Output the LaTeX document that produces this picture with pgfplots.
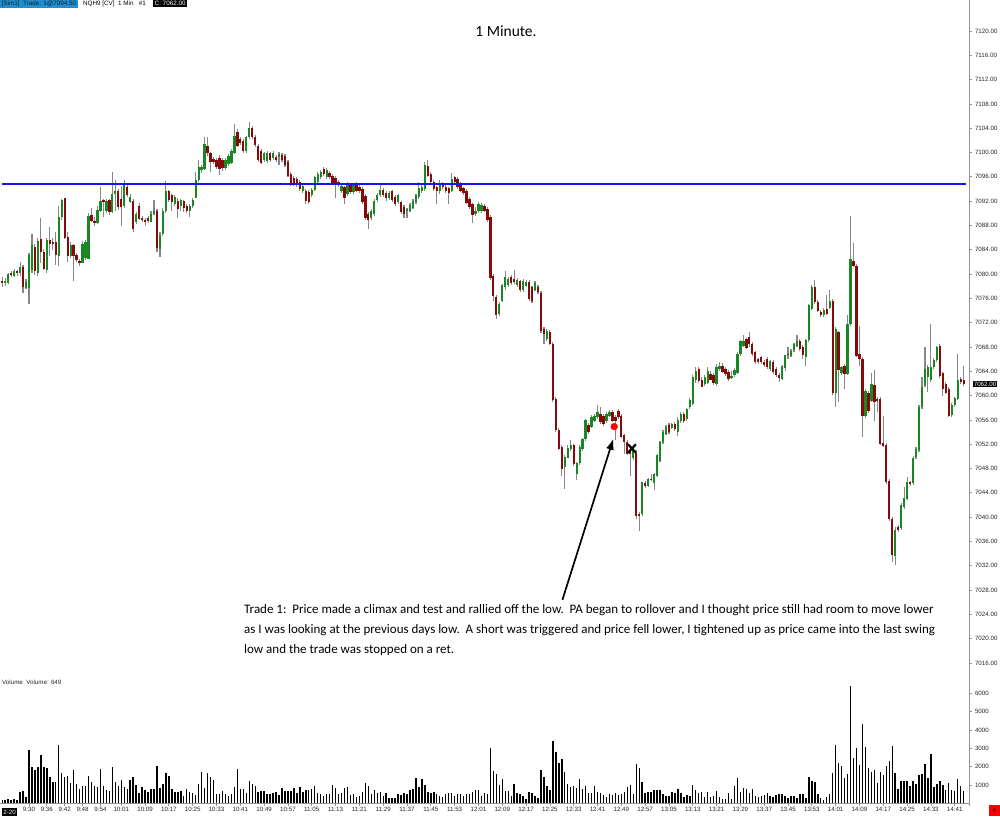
\documentclass[border=0pt]{standalone}
\usepackage{pgfplots}
\pgfplotsset{compat=1.18}
\usepackage{pgfplotstable}
\usepackage{fontspec}
\setmainfont{Carlito}
\newfontfamily\axfont{Liberation Sans}
\usetikzlibrary{arrows.meta}
\definecolor{cgreen}{RGB}{25,135,35}
\definecolor{cred}{RGB}{135,10,10}
\definecolor{wick}{RGB}{135,135,135}
\definecolor{axgray}{RGB}{150,150,150}
\definecolor{hdrblue}{RGB}{30,144,210}
\definecolor{lineblue}{RGB}{20,20,245}

\pgfplotstableread{
i o h l c v
-9 7079.0 7079.5 7078.0 7078.6 180
-8 7078.6 7079.4 7078.2 7079.0 180
-7 7078.7 7080.4 7078.5 7080.2 230
-6 7080.2 7080.5 7079.6 7079.8 180
-5 7079.8 7080.9 7079.6 7080.6 230
-4 7080.6 7080.8 7079.8 7080.3 180
-3 7080.3 7082.0 7079.7 7081.2 600
-2 7081.3 7081.5 7077.0 7077.9 690
-1 7077.9 7079.3 7077.6 7078.8 360
0 7077.7 7083.6 7075.2 7083.1 2900
1 7080.7 7086.6 7080.3 7084.8 2000
2 7084.6 7085.0 7080.0 7080.7 1820
3 7080.2 7086.0 7079.8 7085.6 2000
4 7085.9 7089.4 7082.0 7083.7 2640
5 7083.7 7084.2 7080.6 7081.0 2000
6 7080.7 7086.0 7080.3 7085.6 1910
7 7085.6 7087.8 7083.1 7085.0 1460
8 7085.4 7086.0 7084.0 7085.1 1150
9 7085.3 7087.0 7081.5 7083.1 1190
10 7083.1 7091.4 7081.5 7089.4 3190
11 7089.4 7092.5 7089.0 7092.2 1640
12 7092.5 7092.6 7085.8 7086.0 1420
13 7086.2 7087.0 7082.0 7083.1 1510
14 7083.1 7085.2 7082.6 7084.8 1090
15 7084.8 7085.0 7079.0 7083.1 1820
16 7083.1 7083.5 7082.0 7082.3 1050
17 7082.3 7082.6 7081.5 7081.9 780
18 7082.0 7085.4 7081.8 7085.0 960
19 7082.8 7085.8 7082.5 7085.4 960
20 7082.6 7090.0 7082.4 7089.7 1510
21 7089.7 7090.9 7088.5 7088.8 1150
22 7088.8 7089.5 7088.0 7088.6 960
23 7088.6 7091.2 7088.3 7090.7 870
24 7090.5 7094.4 7090.3 7092.2 1880
25 7092.2 7092.5 7089.6 7091.8 960
26 7090.5 7092.5 7090.2 7092.2 730
27 7092.2 7092.4 7089.8 7090.3 690
28 7090.3 7096.8 7090.0 7093.2 1970
29 7093.2 7095.5 7090.5 7093.6 1190
30 7093.6 7094.0 7090.6 7091.0 960
31 7092.5 7094.7 7088.0 7091.1 1280
32 7091.2 7095.5 7091.0 7094.7 910
33 7094.5 7094.9 7092.8 7093.1 780
34 7092.0 7093.2 7091.7 7092.8 1280
35 7092.0 7092.4 7087.0 7087.4 1420
36 7088.6 7090.2 7088.3 7089.9 1000
37 7091.3 7091.8 7089.0 7089.2 550
38 7089.2 7089.6 7088.7 7089.0 870
39 7089.0 7089.4 7088.0 7088.7 730
40 7089.3 7089.6 7088.4 7088.7 640
41 7088.7 7090.3 7088.5 7090.0 780
42 7090.0 7092.2 7089.7 7090.5 780
43 7090.5 7090.8 7083.8 7084.4 2040
44 7084.2 7086.9 7082.8 7086.6 820
45 7086.6 7091.0 7086.3 7090.5 1050
46 7090.5 7095.5 7090.2 7093.8 1640
47 7093.6 7094.0 7092.0 7092.2 1510
48 7093.1 7093.4 7090.5 7091.9 780
49 7091.6 7093.2 7091.3 7092.8 640
50 7092.2 7092.6 7089.4 7090.8 640
51 7091.2 7092.5 7090.5 7092.2 690
52 7092.0 7092.3 7090.4 7090.8 420
53 7091.3 7091.6 7090.2 7090.5 780
54 7090.5 7091.6 7089.5 7091.3 600
55 7091.2 7092.6 7091.0 7092.3 550
56 7092.7 7096.8 7092.5 7095.5 460
57 7095.5 7098.8 7095.2 7097.7 1050
58 7097.2 7098.0 7096.8 7097.7 1730
59 7097.4 7102.6 7097.2 7101.5 860
60 7101.2 7102.6 7099.6 7099.9 1640
61 7099.9 7100.2 7096.9 7098.5 1460
62 7099.1 7099.4 7098.2 7098.5 1280
63 7099.0 7099.3 7097.4 7097.7 510
64 7099.3 7099.6 7096.3 7097.4 510
65 7098.8 7099.1 7097.0 7097.4 670
66 7097.4 7099.1 7097.1 7098.8 510
67 7098.3 7099.9 7098.0 7099.6 400
68 7098.5 7100.7 7098.2 7100.4 490
69 7100.1 7104.8 7099.8 7102.9 870
70 7103.4 7104.0 7100.9 7101.2 1860
71 7102.3 7102.6 7101.2 7101.5 780
72 7102.0 7102.3 7100.1 7100.4 780
73 7100.4 7102.9 7100.1 7102.6 580
74 7102.6 7105.1 7102.3 7104.0 1220
75 7104.0 7104.3 7102.3 7102.6 1050
76 7102.6 7102.9 7100.9 7101.2 950
77 7101.2 7101.5 7098.5 7098.8 600
78 7100.4 7100.7 7098.2 7098.5 670
79 7098.8 7100.2 7098.5 7099.9 670
80 7098.8 7100.4 7098.5 7100.1 510
81 7099.9 7100.2 7098.5 7098.8 510
82 7099.1 7100.2 7098.8 7099.9 580
83 7099.3 7099.6 7098.5 7098.8 600
84 7099.3 7100.2 7098.0 7099.9 460
85 7099.6 7099.9 7098.5 7098.8 820
86 7099.6 7099.9 7097.7 7098.0 670
87 7098.5 7098.8 7096.0 7096.3 690
88 7096.6 7096.9 7094.6 7094.9 690
89 7096.0 7096.3 7094.6 7094.9 820
90 7095.7 7096.0 7094.4 7094.7 580
91 7095.2 7095.5 7093.8 7094.1 870
92 7093.8 7095.0 7093.5 7094.7 640
93 7093.8 7094.1 7091.6 7092.2 730
94 7093.6 7093.9 7091.6 7091.9 730
95 7093.0 7094.1 7092.7 7093.8 760
96 7094.0 7096.3 7093.7 7096.0 950
97 7095.2 7096.9 7094.9 7096.6 550
98 7096.0 7097.2 7095.7 7096.85 510
99 7097.4 7097.7 7096.3 7096.6 400
100 7096.0 7097.5 7095.7 7097.2 490
101 7096.6 7096.9 7095.7 7096.0 490
102 7096.3 7096.6 7094.9 7095.2 1000
103 7096.0 7096.3 7092.7 7094.9 860
104 7095.2 7095.5 7094.4 7094.7 490
105 7093.8 7095.0 7093.5 7094.7 550
106 7094.4 7094.7 7091.6 7092.6 860
107 7093.3 7095.2 7093.0 7094.9 870
108 7094.9 7095.2 7093.3 7093.6 460
109 7093.6 7095.2 7093.3 7094.9 490
110 7094.9 7095.2 7093.5 7093.8 330
111 7094.4 7094.7 7093.5 7093.8 400
112 7094.1 7094.4 7091.6 7091.9 640
113 7093.0 7093.3 7089.1 7089.4 1090
114 7090.0 7090.3 7087.5 7088.9 950
115 7089.2 7090.8 7088.9 7090.5 490
116 7090.0 7092.5 7089.7 7092.2 730
117 7092.2 7093.3 7091.9 7093.0 580
118 7093.0 7094.7 7092.7 7093.8 600
119 7093.8 7094.1 7092.7 7093.0 400
120 7093.5 7093.8 7092.2 7092.7 580
121 7092.5 7093.6 7092.2 7093.3 310
122 7093.6 7093.9 7091.9 7092.2 310
123 7092.7 7093.0 7091.3 7091.6 310
124 7091.9 7093.3 7091.6 7093.0 490
125 7091.9 7092.2 7090.0 7090.3 460
126 7091.1 7091.4 7089.4 7090.0 580
127 7090.5 7091.0 7089.4 7090.8 510
128 7090.5 7091.7 7090.2 7091.4 730
129 7091.1 7092.5 7090.8 7092.2 760
130 7091.9 7093.3 7091.6 7093.0 1370
131 7092.7 7095.2 7092.4 7094.1 910
132 7093.8 7094.7 7093.5 7094.4 1330
133 7094.1 7098.5 7093.8 7097.95 1000
134 7097.95 7098.8 7096.0 7096.3 600
135 7096.6 7096.9 7094.9 7095.2 580
136 7095.2 7095.5 7093.8 7094.1 640
137 7094.4 7094.7 7091.6 7093.6 510
138 7093.6 7095.5 7093.3 7095.0 420
139 7094.9 7095.2 7094.1 7094.4 360
140 7094.4 7094.7 7093.3 7093.6 510
141 7094.1 7094.4 7091.6 7093.3 580
142 7093.8 7096.6 7093.5 7095.8 550
143 7096.0 7096.3 7094.9 7095.2 420
144 7095.8 7096.1 7094.1 7094.4 510
145 7094.9 7095.2 7093.5 7093.8 490
146 7094.1 7094.4 7093.0 7093.3 420
147 7093.8 7094.1 7091.6 7091.9 510
148 7092.5 7092.8 7090.8 7091.1 510
149 7091.6 7091.9 7088.6 7089.7 640
150 7090.0 7091.2 7089.7 7090.5 730
151 7090.5 7092.0 7090.2 7091.6 730
152 7090.5 7091.9 7090.2 7091.4 420
153 7091.2 7091.5 7090.2 7090.5 550
154 7090.8 7091.1 7088.6 7088.9 510
155 7089.4 7089.7 7079.0 7079.3 3000
156 7079.85 7080.0 7075.7 7076.55 1770
157 7076.3 7076.6 7072.7 7073.3 1600
158 7073.5 7075.5 7073.2 7075.2 1000
159 7075.7 7078.4 7075.4 7078.2 1310
160 7077.9 7080.7 7077.6 7079.6 670
161 7078.2 7079.6 7077.9 7079.3 670
162 7079.6 7079.9 7078.2 7078.5 400
163 7079.3 7080.7 7078.5 7078.8 1040
164 7078.2 7079.3 7077.9 7079.0 580
165 7078.8 7079.1 7077.1 7077.4 490
166 7077.4 7079.3 7077.1 7079.0 400
167 7078.2 7079.1 7077.9 7078.8 240
168 7078.8 7079.1 7075.7 7076.0 600
169 7077.9 7078.2 7075.4 7075.7 580
170 7077.4 7078.8 7077.1 7078.5 400
171 7077.9 7078.2 7076.8 7077.1 270
172 7077.1 7077.4 7070.5 7070.8 1820
173 7071.1 7071.4 7068.6 7070.3 1460
174 7069.4 7071.1 7069.1 7070.8 950
175 7070.5 7070.8 7068.3 7068.6 730
176 7068.6 7068.9 7059.0 7059.3 3420
177 7059.6 7059.9 7054.0 7054.35 2820
178 7054.35 7054.6 7051.0 7051.3 2220
179 7051.6 7051.9 7046.7 7048.0 2400
180 7048.3 7050.2 7044.7 7049.95 1690
181 7049.95 7051.9 7049.7 7051.6 1060
182 7051.3 7052.7 7051.0 7051.9 910
183 7051.9 7052.2 7048.6 7048.9 950
184 7047.2 7049.2 7046.1 7048.9 820
185 7048.9 7051.9 7048.6 7051.6 1310
186 7051.3 7053.2 7051.0 7052.97 780
187 7052.97 7056.3 7052.7 7056.0 950
188 7055.2 7055.5 7053.8 7054.1 550
189 7054.9 7056.8 7054.6 7056.5 550
190 7056.0 7057.1 7055.7 7056.8 950
191 7056.5 7058.5 7056.2 7057.4 600
192 7057.1 7058.2 7055.4 7055.7 580
193 7056.8 7057.1 7055.1 7055.4 450
194 7056.0 7057.4 7055.7 7057.1 360
195 7056.8 7057.7 7056.5 7057.4 490
196 7057.4 7057.7 7055.7 7056.0 450
197 7056.5 7056.8 7052.7 7055.9 550
198 7057.6 7057.9 7056.2 7056.5 450
199 7056.8 7057.1 7053.0 7053.25 490
200 7053.5 7053.8 7050.5 7052.4 640
201 7052.4 7052.7 7050.2 7050.5 870
202 7051.05 7051.3 7046.7 7050.5 1000
203 7049.7 7051.6 7049.4 7051.3 490
204 7050.8 7051.1 7039.8 7040.35 2150
205 7040.6 7041.0 7037.9 7040.3 1910
206 7040.6 7045.9 7040.3 7045.8 1180
207 7045.8 7046.1 7045.0 7045.3 550
208 7045.3 7046.6 7045.0 7046.4 640
209 7046.4 7047.2 7046.0 7046.1 640
210 7045.8 7047.3 7044.5 7047.2 730
211 7046.9 7050.5 7046.6 7050.2 730
212 7049.4 7052.7 7049.1 7052.4 730
213 7052.4 7054.4 7052.1 7054.1 490
214 7053.8 7055.2 7053.5 7054.9 400
215 7055.2 7055.5 7053.8 7054.1 400
216 7054.9 7055.7 7054.6 7055.4 600
217 7055.4 7055.7 7054.3 7054.6 550
218 7054.1 7056.5 7053.5 7056.2 760
219 7056.0 7057.4 7055.7 7057.1 550
220 7057.1 7057.4 7055.7 7056.0 330
221 7056.3 7058.0 7056.0 7057.9 450
222 7058.2 7059.8 7057.9 7059.5 400
223 7058.7 7063.3 7058.4 7063.1 1000
224 7062.6 7064.8 7062.3 7064.2 730
225 7064.5 7064.8 7062.3 7062.6 580
226 7062.8 7063.1 7061.4 7061.5 600
227 7062.0 7063.4 7061.7 7063.1 360
228 7062.3 7064.8 7062.0 7064.2 640
229 7063.7 7064.0 7062.6 7062.8 360
230 7063.4 7063.7 7061.7 7062.0 400
231 7062.0 7065.3 7061.7 7064.8 670
232 7064.5 7065.6 7064.2 7065.0 360
233 7065.0 7065.4 7063.7 7063.9 220
234 7064.5 7064.8 7063.4 7063.7 220
235 7063.9 7064.2 7062.5 7062.8 550
236 7063.1 7064.2 7062.8 7063.4 240
237 7063.4 7064.5 7063.1 7064.2 950
238 7063.9 7067.2 7063.6 7066.9 1370
239 7066.9 7069.2 7066.6 7069.1 640
240 7068.3 7070.0 7068.0 7069.1 820
241 7069.4 7069.7 7067.8 7068.0 780
242 7069.7 7070.5 7068.0 7068.6 550
243 7068.6 7068.9 7066.7 7067.0 780
244 7067.2 7067.5 7065.3 7065.6 400
245 7066.1 7066.4 7065.3 7065.6 360
246 7066.4 7066.7 7065.3 7065.6 420
247 7065.6 7065.9 7064.8 7065.0 450
248 7066.1 7066.4 7064.5 7064.8 550
249 7064.5 7066.0 7064.2 7065.8 400
250 7065.6 7065.9 7063.7 7063.9 360
251 7064.5 7064.8 7063.1 7063.4 450
252 7063.4 7063.7 7062.3 7062.9 490
253 7062.8 7065.1 7062.5 7064.8 510
254 7064.5 7066.9 7064.2 7066.7 400
255 7066.9 7068.1 7066.1 7066.7 310
256 7066.7 7067.8 7066.4 7067.5 400
257 7067.5 7068.8 7067.2 7068.6 400
258 7068.3 7070.0 7068.0 7069.1 310
259 7069.1 7069.4 7067.5 7067.8 490
260 7068.05 7068.4 7066.1 7066.7 510
261 7066.4 7069.5 7065.0 7069.2 270
262 7069.2 7075.2 7068.9 7074.9 1460
263 7074.4 7078.2 7074.1 7078.0 1220
264 7078.0 7079.1 7075.2 7075.5 1150
265 7075.5 7075.8 7073.8 7074.1 510
266 7073.8 7074.1 7073.0 7073.3 310
267 7073.3 7074.4 7073.0 7074.1 180
268 7074.3 7076.6 7073.2 7073.5 360
269 7074.6 7077.4 7074.3 7075.7 510
270 7075.7 7076.0 7060.1 7060.4 1680
271 7060.6 7071.4 7058.2 7071.1 3190
272 7070.5 7070.8 7059.0 7064.2 2220
273 7063.9 7065.1 7063.6 7064.8 2060
274 7065.0 7065.3 7061.2 7063.7 1400
275 7063.7 7073.3 7063.4 7071.9 1600
276 7071.9 7089.7 7071.6 7082.6 6400
277 7082.3 7085.1 7081.2 7081.5 2490
278 7081.5 7081.8 7066.4 7066.7 3040
279 7066.9 7071.6 7065.0 7066.1 2090
280 7066.1 7066.4 7053.3 7056.8 4330
281 7056.8 7061.2 7056.5 7060.9 3060
282 7060.4 7060.7 7057.1 7057.4 1950
283 7059.3 7063.7 7059.0 7062.0 1730
284 7061.8 7064.2 7055.7 7059.0 1820
285 7059.6 7059.9 7057.4 7059.2 1130
286 7059.6 7059.9 7051.9 7052.2 1690
287 7052.4 7056.8 7051.6 7051.9 1550
288 7051.9 7052.2 7045.5 7045.8 2040
289 7046.1 7046.4 7039.5 7039.8 2310
290 7039.8 7040.1 7032.7 7033.8 3150
291 7033.8 7038.4 7032.1 7038.1 1640
292 7038.4 7038.7 7037.6 7037.9 780
293 7038.2 7042.3 7037.9 7042.0 1240
294 7041.7 7045.0 7041.4 7043.1 1240
295 7043.1 7046.7 7042.8 7045.8 1220
296 7045.8 7046.1 7045.3 7045.6 960
297 7045.8 7050.2 7045.5 7049.95 1220
298 7049.95 7051.6 7049.7 7051.3 1040
299 7051.05 7058.5 7050.8 7058.2 1550
300 7058.2 7063.1 7057.9 7061.5 1580
301 7061.8 7068.05 7061.5 7064.5 2150
302 7063.1 7065.1 7060.6 7064.8 1370
303 7062.6 7071.9 7062.3 7064.8 2670
304 7064.8 7066.2 7064.5 7065.9 870
305 7065.9 7068.3 7065.6 7068.05 1040
306 7068.3 7068.6 7063.1 7063.4 1220
307 7063.7 7064.0 7060.1 7061.2 1000
308 7062.0 7062.3 7060.3 7060.6 730
309 7061.2 7061.5 7056.5 7056.8 1130
310 7056.8 7058.8 7056.5 7058.5 730
311 7058.5 7059.9 7058.2 7059.6 670
312 7059.6 7066.9 7059.3 7062.6 1310
313 7062.9 7063.2 7062.1 7062.4 950
314 7062.6 7065.0 7061.7 7062.0 690
}\data

\begin{document}
\begin{tikzpicture}
\useasboundingbox (0pt,0pt) rectangle (1000pt,816pt);
% ---------------- price panel ----------------
\begin{axis}[
  at={(0pt,148pt)}, anchor=south west, scale only axis,
  width=969pt, height=668pt,
  xmin=-9.74, xmax=315.8, ymin=7015.18, ymax=7125.1,
  hide x axis, axis y line*=right,
  y axis line style={draw=none},
  ytick={7016,7020,...,7120},
  /pgf/number format/assume math mode=true,
  yticklabel={\pgfmathprintnumber[fixed,fixed zerofill,precision=2,1000 sep={}]{\tick}},
  yticklabel style={font=\axfont\fontsize{6.2}{7}\selectfont, text=black!85},
  tick align=outside, major tick length=2.5pt,
  ytick style={axgray, line width=0.8pt},
]
% wicks
\addplot[draw=none, no markers, forget plot,
  error bars/.cd, y dir=both, y explicit, error mark=none,
  error bar style={draw=wick, line width=1.1pt}]
  table[x=i, y expr={(\thisrow{h}+\thisrow{l})/2}, y error expr={(\thisrow{h}-\thisrow{l})/2}] {\data};
% up bodies
\addplot[draw=none, no markers, forget plot,
  restrict expr to domain={\thisrow{c}-\thisrow{o}}{0:1000},
  error bars/.cd, y dir=both, y explicit, error mark=none,
  error bar style={draw=cgreen, line width=2.3pt}]
  table[x=i, y expr={(\thisrow{o}+\thisrow{c})/2}, y error expr={max(abs(\thisrow{c}-\thisrow{o})/2,0.12)}] {\data};
% down bodies
\addplot[draw=none, no markers, forget plot,
  restrict expr to domain={\thisrow{c}-\thisrow{o}}{-1000:-0.001},
  error bars/.cd, y dir=both, y explicit, error mark=none,
  error bar style={draw=cred, line width=2.3pt}]
  table[x=i, y expr={(\thisrow{o}+\thisrow{c})/2}, y error expr={max(abs(\thisrow{c}-\thisrow{o})/2,0.12)}] {\data};
% blue level line
\addplot[lineblue, line width=1.8pt, no markers] coordinates {(-9.1,7094.8) (314.7,7094.8)};
% entry dot
\addplot[only marks, mark=*, mark size=3.4pt, mark options={fill=red, draw=red}] coordinates {(196.6,7054.9)};
% exit cross (two strokes)
\addplot[black, line width=2.2pt, no markers] coordinates {(201.2,7052.0) (203.9,7050.6)};
\addplot[black, line width=2.2pt, no markers] coordinates {(201.2,7050.6) (203.9,7052.0)};
% arrow
\draw[black, line width=1.7pt, -{Latex[length=11pt,width=8pt]}] (axis cs:179.2,7026.4) -- (axis cs:196.3,7052.9);
\end{axis}
% ---------------- volume panel ----------------
\begin{axis}[
  at={(0pt,12.7pt)}, anchor=south west, scale only axis,
  width=969pt, height=131.3pt,
  xmin=-9.74, xmax=315.8, ymin=0, ymax=7175,
  axis x line*=bottom, axis y line*=right,
  y axis line style={draw=none},
  x axis line style={axgray, line width=1.2pt},
  scaled y ticks=false,
  ytick={1000,2000,...,6000},
  /pgf/number format/assume math mode=true,
  yticklabel={\pgfmathprintnumber[fixed,1000 sep={}]{\tick}},
  yticklabel style={font=\axfont\fontsize{6.2}{7}\selectfont, text=black!85},
  xtick={0,6,12,18,24,31,39,...,311},
  xticklabels={9:30,9:36,9:42,9:48,9:54,10:01,10:09,10:17,10:25,10:33,10:41,10:49,10:57,11:05,11:13,11:21,11:29,11:37,11:45,11:53,12:01,12:09,12:17,12:25,12:33,12:41,12:49,12:57,13:05,13:13,13:21,13:29,13:37,13:45,13:53,14:01,14:09,14:17,14:25,14:33,14:41},
  xticklabel style={font=\axfont\fontsize{6.2}{7}\selectfont, text=black!85, inner ysep=1pt},
  tick align=outside, major tick length=2.5pt,
  tick style={axgray, line width=0.8pt},
]
\addplot[ycomb, black, line width=1.4pt, no markers] table[x=i, y=v] {\data};
\end{axis}
% right axis line
\draw[axgray, line width=1.5pt] (969.5pt,10pt) -- (969.5pt,816pt);
% header
\node[anchor=north west, fill=hdrblue, inner xsep=1.5pt, inner ysep=1pt, font=\axfont\fontsize{6.3}{7}\selectfont, text=black!90] at (0pt,816pt) {[Sim1]\ \ Trade: 1@7094.50};
\node[anchor=north west, inner xsep=1pt, inner ysep=1pt, font=\axfont\fontsize{6.3}{7}\selectfont] at (82pt,816pt) {NQH9 [CV]\ \ 1 Min\ \ \ \#1};
\node[anchor=north west, fill=black, text=white, inner xsep=1.5pt, inner ysep=1pt, font=\axfont\fontsize{6.3}{7}\selectfont] at (153pt,816pt) {C: 7062.00};
% title
\node[anchor=base, font=\fontsize{15.5}{18}\selectfont] at (506pt,779pt) {1 Minute.};
% annotation
\node[anchor=base west, font=\fontsize{13}{15}\selectfont, inner sep=0pt] at (244pt,202pt) {Trade 1:\ \ Price made a climax and test and rallied off the low.\ \ PA began to rollover and I thought price still had room to move lower};
\node[anchor=base west, font=\fontsize{13}{15}\selectfont, inner sep=0pt] at (244pt,182pt) {as I was looking at the previous days low.\ \ A short was triggered and price fell lower, I tightened up as price came into the last swing};
\node[anchor=base west, font=\fontsize{13}{15}\selectfont, inner sep=0pt] at (244pt,162pt) {low and the trade was stopped on a ret.};
% volume label
\node[anchor=west, font=\axfont\fontsize{6.2}{7}\selectfont, inner sep=0pt, text=black!85] at (2pt,134pt) {Volume\ \ Volume: 649};
% price marker
\node[fill=black, text=white, inner xsep=1pt, inner ysep=1pt, font=\axfont\fontsize{6.2}{7}\selectfont] at (985pt,432pt) {7062.00};
% date label and corner box
\node[anchor=south east, fill=black, text=white, inner xsep=1pt, inner ysep=1.5pt, font=\axfont\fontsize{6.2}{7}\selectfont] at (17pt,0pt) {2-20};
\node[anchor=south east, fill=red, text=black, minimum width=11pt, minimum height=11pt, inner sep=0pt, font=\axfont\fontsize{6.2}{7}\selectfont] at (1000pt,0pt) {4};
\end{tikzpicture}
\end{document}
